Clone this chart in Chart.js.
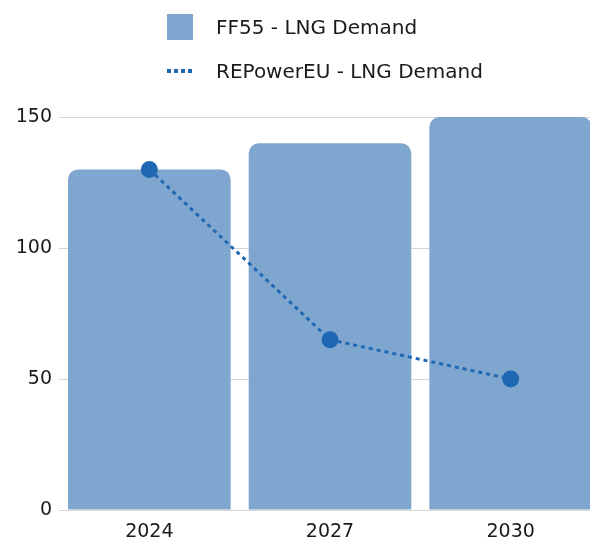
<!DOCTYPE html>
<html>
<head>
<meta charset="utf-8">
<script src="https://cdn.jsdelivr.net/npm/chart.js@4"></script>
<style>
  html, body { margin: 0; padding: 0; background: #fff; overflow: hidden; }
  #wrap { position: relative; width: 611px; height: 539px; }
  .legend { position: absolute; left: 167px; font-family: "DejaVu Sans", sans-serif; font-size: 20px; color: #1a1a1a; }
  .legend .item { position: absolute; left: 0; white-space: nowrap; height: 28px; line-height: 28px; }
  .legend .swatch { position: absolute; left: 0; }
  .legend .label { position: absolute; left: 49px; top: 0; }
  .box { top: 1px; width: 26px; height: 26px; background: #7fa6cf; }
  .dots { top: 12px; width: 28px; height: 4px;
    background: repeating-linear-gradient(to right, #1f68b3 0 4px, transparent 4px 7px); }
</style>
</head>
<body>
<div id="wrap">
  <div class="legend">
    <div class="item" style="top:13px"><span class="swatch box"></span><span class="label">FF55 - LNG Demand</span></div>
    <div class="item" style="top:57px"><span class="swatch dots"></span><span class="label">REPowerEU - LNG Demand</span></div>
  </div>
  <canvas id="mixed-chart" width="611" height="539"></canvas>
</div>
<script>
const years = ["2024", "2027", "2030"];
const ff55Demand = [130, 140, 150];
const repowerDemand = [130, 65, 50];
const yTicks = [0, 50, 100, 150];

Chart.defaults.font.family = "'DejaVu Sans', sans-serif";
Chart.defaults.color = "#1a1a1a";

new Chart(document.getElementById("mixed-chart"), {
  data: {
    labels: years,
    datasets: [
      {
        type: 'line',
        label: "REPowerEU - LNG Demand",
        data: repowerDemand,
        borderColor: "#1f68b3",
        backgroundColor: "#1f68b3",
        borderWidth: 3,
        borderDash: [4, 4],
        pointRadius: 7,
        pointHoverRadius: 7,
        fill: false
      },
      {
        type: 'bar',
        label: "FF55 - LNG Demand",
        data: ff55Demand,
        backgroundColor: "#7fa6cf",
        borderRadius: 10,
        barPercentage: 0.9,
        categoryPercentage: 1.0
      }
    ]
  },
  options: {
    responsive: false,
    animation: false,
    layout: { padding: { top: 117, right: 0, left: 0, bottom: 0 } },
    plugins: {
      legend: { display: false },
      tooltip: { enabled: false }
    },
    scales: {
      x: {
        afterFit: (scale) => { scale.height = 29; },
        grid: { display: false },
        border: { display: false },
        ticks: { font: { size: 19 }, padding: 3 }
      },
      y: {
        min: 0,
        max: 150,
        afterFit: (scale) => { scale.width = 59; },
        afterBuildTicks: (scale) => { scale.ticks = yTicks.map(v => ({ value: v })); },
        grid: { color: "#d6d6d6", lineWidth: 1, drawTicks: false },
        border: { display: false },
        ticks: { font: { size: 19 }, padding: 7 }
      }
    }
  }
});
</script>
</body>
</html>
